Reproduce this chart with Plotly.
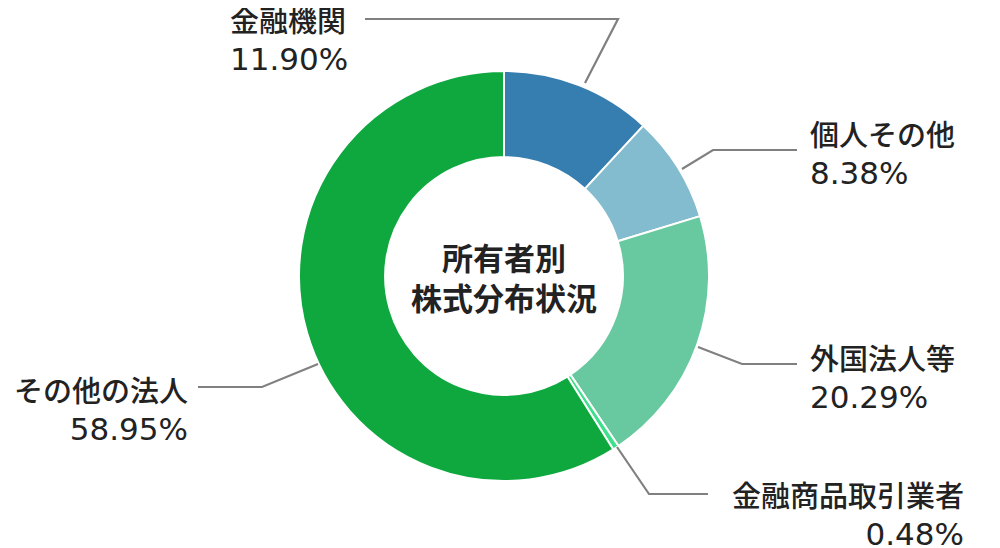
import plotly.graph_objects as go

# ---- data ----
categories = ["金融機関", "個人その他", "外国法人等", "金融商品取引業者", "その他の法人"]
values = [11.90, 8.38, 20.29, 0.48, 58.95]
value_labels = ["11.90%", "8.38%", "20.29%", "0.48%", "58.95%"]
center_title = "所有者別<br>株式分布状況"

# ---- style ----
colors = ["#377eb0", "#83bccf", "#68c8a0", "#3ee08c", "#0fa83f"]
W, H = 1000, 548
OFFSET = 8  # page body margin in the browser
FONT = "Noto Sans CJK JP"
NUM_FONT = "DejaVu Sans"
TEXT_COLOR = "#222222"
LINE_COLOR = "#808080"

# label layout (screen pixels): leader-line points and text anchor
label_layout = [
    dict(pts=[(585, 83), (618, 19), (365, 19)], x=228, y=37, align="left", xanchor="left"),
    dict(pts=[(682, 169), (713, 150), (797, 150)], x=808, y=151, align="left", xanchor="left"),
    dict(pts=[(698, 347), (742, 364), (797, 364)], x=808, y=375, align="left", xanchor="left"),
    dict(pts=[(617, 447), (649, 494), (708, 494)], x=966, y=512, align="right", xanchor="right"),
    dict(pts=[(318, 364), (262, 387), (198, 387)], x=190, y=407, align="right", xanchor="right"),
]

def px(x, y):
    return (x - OFFSET) / W, 1 - (y - OFFSET) / H

cx, cy, r = 504, 276, 205
x0, y0 = px(cx - r, cy + r)
x1, y1 = px(cx + r, cy - r)

fig = go.Figure(go.Pie(
    labels=categories,
    values=values,
    hole=0.58,
    sort=False,
    direction="clockwise",
    rotation=0,
    marker=dict(colors=colors, line=dict(color="white", width=2)),
    textinfo="none",
    hoverinfo="label+percent",
    showlegend=False,
    domain=dict(x=[x0, x1], y=[y0, y1]),
))

shapes = []
annotations = []
for cat, lab, lay in zip(categories, value_labels, label_layout):
    path = ""
    for i, (x, y) in enumerate(lay["pts"]):
        u, v = px(x, y)
        path += ("M" if i == 0 else "L") + f"{u},{v} "
    shapes.append(dict(type="path", xref="paper", yref="paper", path=path.strip(),
                       line=dict(color=LINE_COLOR, width=2.2)))
    ax, ay = px(lay["x"], lay["y"])
    annotations.append(dict(
        text=f"{cat}<br><span style=\"font-family:'{NUM_FONT}';font-size:31px;font-weight:400\">{lab}</span>",
        x=ax, y=ay, xref="paper", yref="paper",
        xanchor=lay["xanchor"], yanchor="middle", align=lay["align"],
        showarrow=False, font=dict(family=FONT, size=29, color=TEXT_COLOR, weight=500),
    ))

cxp, cyp = px(cx, cy)
annotations.append(dict(
    text=f"<b>{center_title}</b>", x=cxp, y=cyp, xref="paper", yref="paper",
    xanchor="center", yanchor="middle", align="center", showarrow=False,
    font=dict(family=FONT, size=31, color=TEXT_COLOR),
))

fig.update_layout(
    width=W, height=H,
    margin=dict(l=0, r=0, t=0, b=0),
    paper_bgcolor="white", plot_bgcolor="white",
    shapes=shapes, annotations=annotations,
    font=dict(family=FONT),
)

fig.write_html("out.html")
